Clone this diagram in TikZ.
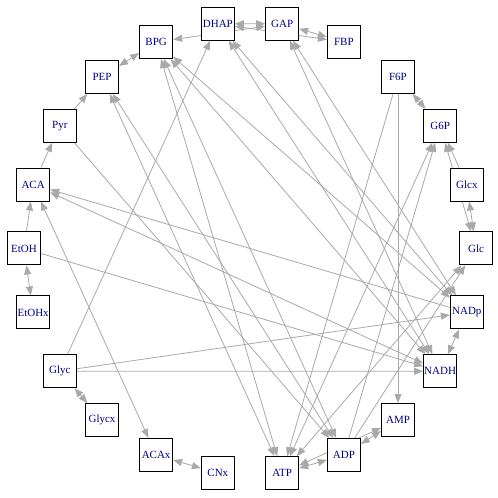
\documentclass[tikz,border=0pt]{standalone}
\usepackage{fontspec}
\setmainfont{Liberation Serif}
\usetikzlibrary{arrows.meta,backgrounds}
\definecolor{edgegray}{HTML}{A9A9A9}
\definecolor{labelblue}{HTML}{00008B}

\begin{document}
\begin{tikzpicture}[x=1pt,y=1pt,
  met/.style={draw=black, line width=1pt, fill=white, minimum size=33pt,
    inner sep=0pt, text=labelblue, font=\fontsize{11}{12}\selectfont},
  dep/.style={draw=edgegray, line width=0.8pt, -{Triangle[length=9pt,width=7pt]}},
  mutdep/.style={dep, {Triangle[length=9pt,width=7pt]}-{Triangle[length=9pt,width=7pt]}}]

\useasboundingbox (0,0) rectangle (498,498);

% metabolites on the circle
\foreach \m [count=\i from 0] in {Glc,Glcx,G6P,F6P,FBP,GAP,DHAP,BPG,PEP,Pyr,ACA,
    EtOH,EtOHx,Glyc,Glycx,ACAx,CNx,ATP,ADP,AMP,NADH,NADp}
  \node[met] (\m) at ({250+226*cos(\i*360/22)},{249.5+227*sin(\i*360/22)}) {\m};

\begin{scope}[on background layer]
% one way
\draw[dep] (Glcx) -- (G6P);
\draw[dep] (ADP) -- (Glc);
\draw[dep] (ADP) -- (G6P);
\draw[dep] (F6P) -- (ATP);
\draw[dep] (F6P) -- (AMP);
\draw[dep] (NADp) -- (ACA);
\draw[dep] (Pyr) -- (PEP);
\draw[dep] (Pyr) -- (ADP);
\draw[dep] (ACA) -- (Pyr);
\draw[dep] (EtOH) -- (ACA);
\draw[dep] (EtOH) -- (NADH);
\draw[dep] (Glyc) -- (DHAP);
\draw[dep] (Glyc) -- (NADH);
\draw[dep] (Glyc) -- (NADp);

% both ways
\draw[mutdep] (Glc) -- (Glcx);
\draw[mutdep] (Glc) -- (G6P);
\draw[mutdep] (Glc) -- (ATP);
\draw[mutdep] (ATP) -- (G6P);
\draw[mutdep] (ATP) -- (BPG);
\draw[mutdep] (ATP) -- (ADP);
\draw[mutdep] (ATP) -- (PEP);
\draw[mutdep] (ATP) -- (AMP);
\draw[mutdep] (ADP) -- (AMP);
\draw[mutdep] (ADP) -- (BPG);
\draw[mutdep] (ADP) -- (PEP);
\draw[mutdep] (G6P) -- (F6P);
\draw[mutdep] (FBP) -- (GAP);
\draw[mutdep] (FBP) -- (DHAP);
\draw[mutdep] (GAP) -- (DHAP);
\draw[mutdep] (GAP) -- (NADp);
\draw[mutdep] (GAP) -- (BPG);
\draw[mutdep] (GAP) -- (NADH);
\draw[mutdep] (DHAP) -- (NADH);
\draw[mutdep] (DHAP) -- (NADp);
\draw[mutdep] (NADp) -- (BPG);
\draw[mutdep] (NADp) -- (NADH);
\draw[mutdep] (BPG) -- (NADH);
\draw[mutdep] (BPG) -- (PEP);
\draw[mutdep] (NADH) -- (ACA);
\draw[mutdep] (ACA) -- (ACAx);
\draw[mutdep] (EtOH) -- (EtOHx);
\draw[mutdep] (Glyc) -- (Glycx);
\draw[mutdep] (ACAx) -- (CNx);
\end{scope}

\end{tikzpicture}
\end{document}
